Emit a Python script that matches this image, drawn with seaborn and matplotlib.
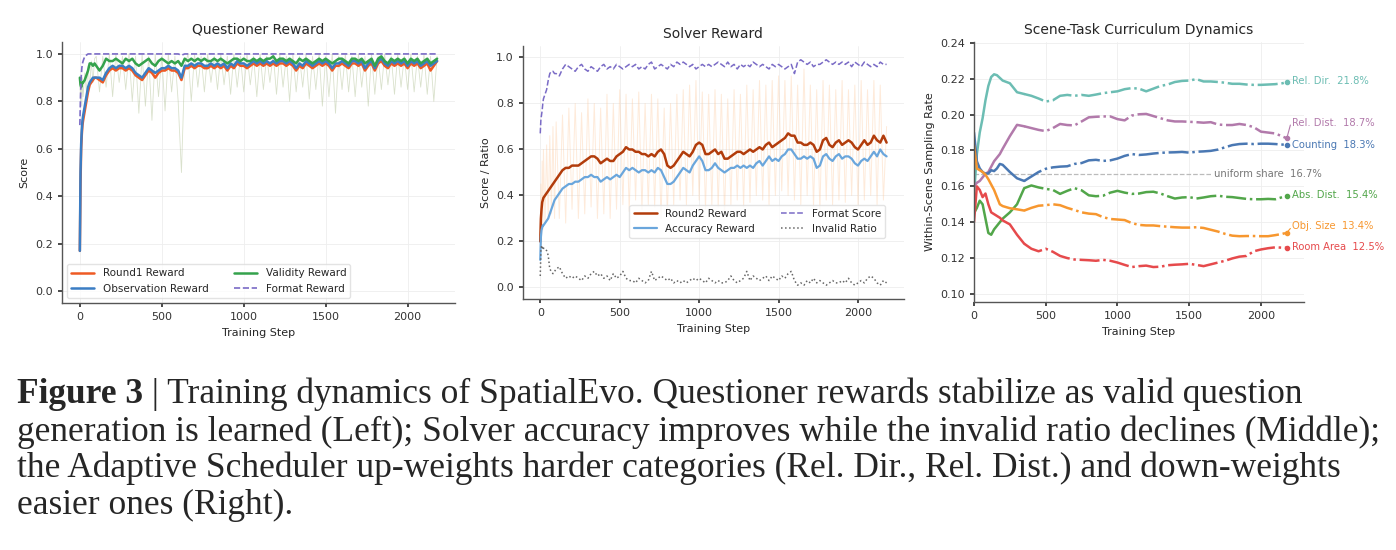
import matplotlib
matplotlib.use('Agg')
import matplotlib.pyplot as plt
import seaborn as sns

# ---------------- data ----------------
early_steps = [0, 4, 8, 12, 16, 20, 30, 40, 50, 60, 70, 80, 90]
steps = early_steps + list(range(100, 2181, 20))

# Questioner panel
round1_reward = [0.17, 0.45, 0.60, 0.66, 0.70, 0.72, 0.76, 0.80, 0.84, 0.87, 0.88, 0.89, 0.90,
                 0.90, 0.89, 0.88, 0.91, 0.93, 0.94, 0.93, 0.94, 0.94, 0.93,
                 0.94, 0.93, 0.91, 0.90, 0.89, 0.91, 0.93, 0.92, 0.90, 0.92,
                 0.93, 0.93, 0.94, 0.93, 0.93, 0.92, 0.89, 0.94, 0.94, 0.95,
                 0.94, 0.95, 0.95, 0.94, 0.94, 0.95, 0.94, 0.95, 0.94, 0.95,
                 0.93, 0.95, 0.94, 0.96, 0.95, 0.95, 0.94, 0.95, 0.96, 0.95,
                 0.96, 0.95, 0.96, 0.95, 0.96, 0.95, 0.96, 0.96, 0.95, 0.96,
                 0.95, 0.93, 0.95, 0.94, 0.96, 0.95, 0.94, 0.95, 0.96, 0.95,
                 0.96, 0.95, 0.93, 0.95, 0.95, 0.96, 0.95, 0.94, 0.96, 0.96,
                 0.95, 0.96, 0.93, 0.95, 0.96, 0.93, 0.96, 0.97, 0.95, 0.94,
                 0.96, 0.95, 0.96, 0.95, 0.96, 0.94, 0.96, 0.95, 0.96, 0.94,
                 0.95, 0.96, 0.93, 0.95, 0.97]
observation_reward = [0.17, 0.50, 0.62, 0.68, 0.72, 0.74, 0.78, 0.82, 0.86, 0.88, 0.89, 0.90, 0.90,
                      0.90, 0.90, 0.89, 0.92, 0.94, 0.95, 0.94, 0.95, 0.95, 0.94,
                      0.95, 0.94, 0.92, 0.91, 0.90, 0.92, 0.94, 0.93, 0.92, 0.93,
                      0.94, 0.94, 0.95, 0.94, 0.94, 0.93, 0.90, 0.95, 0.95, 0.96,
                      0.95, 0.96, 0.96, 0.95, 0.95, 0.96, 0.95, 0.96, 0.95, 0.96,
                      0.94, 0.96, 0.95, 0.97, 0.96, 0.96, 0.95, 0.96, 0.97, 0.96,
                      0.97, 0.96, 0.97, 0.96, 0.97, 0.96, 0.97, 0.97, 0.96, 0.97,
                      0.96, 0.94, 0.96, 0.95, 0.97, 0.96, 0.95, 0.96, 0.97, 0.96,
                      0.97, 0.96, 0.94, 0.96, 0.96, 0.97, 0.96, 0.95, 0.97, 0.97,
                      0.96, 0.97, 0.94, 0.96, 0.97, 0.94, 0.97, 0.98, 0.96, 0.95,
                      0.97, 0.96, 0.97, 0.96, 0.97, 0.95, 0.97, 0.96, 0.97, 0.95,
                      0.96, 0.97, 0.95, 0.96, 0.97]
validity_reward = [0.90, 0.87, 0.86, 0.87, 0.88, 0.88, 0.89, 0.91, 0.93, 0.96, 0.96, 0.95, 0.96,
                   0.95, 0.93, 0.95, 0.98, 0.97, 0.97, 0.98, 0.97, 0.96, 0.98,
                   0.97, 0.98, 0.96, 0.95, 0.96, 0.97, 0.98, 0.96, 0.95, 0.97,
                   0.98, 0.97, 0.96, 0.97, 0.96, 0.97, 0.95, 0.98, 0.97, 0.98,
                   0.97, 0.98, 0.97, 0.98, 0.97, 0.97, 0.98, 0.97, 0.98, 0.97,
                   0.96, 0.97, 0.98, 0.98, 0.97, 0.98, 0.97, 0.97, 0.98, 0.97,
                   0.98, 0.97, 0.98, 0.98, 0.99, 0.97, 0.98, 0.98, 0.97, 0.98,
                   0.97, 0.96, 0.98, 0.97, 0.98, 0.97, 0.96, 0.97, 0.98, 0.97,
                   0.98, 0.97, 0.96, 0.97, 0.98, 0.98, 0.97, 0.96, 0.98, 0.98,
                   0.97, 0.98, 0.96, 0.97, 0.98, 0.95, 0.98, 0.99, 0.97, 0.96,
                   0.98, 0.97, 0.98, 0.97, 0.98, 0.96, 0.98, 0.97, 0.98, 0.96,
                   0.97, 0.98, 0.96, 0.97, 0.98]
format_reward = [0.70, 0.82, 0.90, 0.94, 0.96, 0.97, 0.99, 0.995, 1.0, 1.0, 1.0, 1.0, 1.0,
                 1.0, 1.0, 1.0, 1.0, 1.0, 1.0, 1.0, 1.0, 1.0, 1.0,
                 1.0, 1.0, 1.0, 1.0, 1.0, 1.0, 1.0, 1.0, 1.0, 1.0,
                 1.0, 1.0, 1.0, 1.0, 1.0, 1.0, 0.995, 1.0, 1.0, 1.0,
                 1.0, 1.0, 1.0, 1.0, 1.0, 1.0, 1.0, 1.0, 1.0, 1.0,
                 1.0, 1.0, 1.0, 1.0, 1.0, 1.0, 1.0, 1.0, 1.0, 1.0,
                 1.0, 1.0, 1.0, 1.0, 1.0, 1.0, 1.0, 1.0, 1.0, 1.0,
                 1.0, 1.0, 1.0, 1.0, 1.0, 1.0, 1.0, 1.0, 1.0, 1.0,
                 1.0, 1.0, 1.0, 1.0, 1.0, 1.0, 1.0, 1.0, 1.0, 1.0,
                 1.0, 1.0, 1.0, 1.0, 1.0, 1.0, 1.0, 1.0, 1.0, 1.0,
                 1.0, 1.0, 1.0, 1.0, 1.0, 1.0, 1.0, 1.0, 1.0, 1.0,
                 1.0, 1.0, 1.0, 1.0, 1.0]
validity_raw = [0.90, 0.80, 0.88, 0.78, 0.90, 0.82, 0.92, 0.84, 0.95, 0.86, 0.97, 0.88, 0.98,
                0.99, 0.84, 0.99, 0.86, 1.0, 0.82, 1.0, 0.88, 0.99, 0.85,
                1.0, 0.80, 0.99, 0.75, 1.0, 0.78, 0.99, 0.72, 1.0, 0.82,
                0.99, 0.76, 1.0, 0.84, 0.99, 0.80, 0.50, 0.95, 1.0, 0.80,
                1.0, 0.86, 0.99, 0.84, 1.0, 0.88, 0.99, 0.85, 1.0, 0.87,
                0.99, 0.83, 1.0, 0.86, 0.99, 0.84, 1.0, 0.87, 0.99, 0.82,
                1.0, 0.85, 0.99, 0.88, 1.0, 0.83, 1.0, 0.86, 0.99, 0.80,
                1.0, 0.84, 0.99, 0.86, 1.0, 0.81, 0.99, 0.85, 1.0, 0.78,
                0.99, 0.82, 1.0, 0.75, 0.99, 0.85, 1.0, 0.84, 0.99, 0.82,
                1.0, 0.86, 0.99, 0.78, 1.0, 0.83, 0.99, 0.85, 1.0, 0.87,
                0.99, 0.83, 1.0, 0.86, 0.99, 0.85, 1.0, 0.84, 0.99, 0.86,
                1.0, 0.83, 0.99, 0.80, 0.99]

# Solver panel
round2_reward = [0.20, 0.30, 0.34, 0.37, 0.38, 0.39, 0.40, 0.41, 0.42, 0.43, 0.44, 0.45, 0.46,
                 0.47, 0.49, 0.51, 0.52, 0.52, 0.53, 0.53, 0.53, 0.54, 0.55,
                 0.56, 0.57, 0.57, 0.56, 0.54, 0.55, 0.56, 0.55, 0.55, 0.57,
                 0.58, 0.59, 0.61, 0.60, 0.60, 0.59, 0.59, 0.58, 0.58, 0.57,
                 0.58, 0.57, 0.59, 0.60, 0.58, 0.53, 0.52, 0.53, 0.55, 0.57,
                 0.59, 0.58, 0.57, 0.59, 0.62, 0.63, 0.62, 0.58, 0.58, 0.59,
                 0.60, 0.58, 0.59, 0.56, 0.56, 0.57, 0.58, 0.59, 0.59, 0.58,
                 0.59, 0.60, 0.59, 0.60, 0.61, 0.60, 0.62, 0.63, 0.61, 0.62,
                 0.63, 0.64, 0.65, 0.67, 0.66, 0.66, 0.63, 0.63, 0.62, 0.62,
                 0.63, 0.62, 0.59, 0.60, 0.64, 0.65, 0.62, 0.61, 0.63, 0.64,
                 0.62, 0.63, 0.64, 0.63, 0.61, 0.60, 0.62, 0.64, 0.62, 0.63,
                 0.66, 0.64, 0.63, 0.66, 0.63]
accuracy_reward = [0.12, 0.22, 0.25, 0.26, 0.27, 0.27, 0.28, 0.29, 0.30, 0.32, 0.34, 0.36, 0.38,
                   0.39, 0.41, 0.43, 0.44, 0.45, 0.45, 0.46, 0.46, 0.47, 0.48,
                   0.48, 0.49, 0.48, 0.48, 0.46, 0.47, 0.48, 0.47, 0.48, 0.49,
                   0.48, 0.50, 0.52, 0.51, 0.52, 0.51, 0.50, 0.51, 0.51, 0.50,
                   0.51, 0.50, 0.52, 0.51, 0.48, 0.45, 0.45, 0.46, 0.48, 0.50,
                   0.52, 0.51, 0.50, 0.53, 0.55, 0.57, 0.55, 0.51, 0.51, 0.52,
                   0.54, 0.52, 0.51, 0.50, 0.51, 0.52, 0.52, 0.53, 0.52, 0.53,
                   0.52, 0.53, 0.52, 0.54, 0.55, 0.53, 0.55, 0.57, 0.55, 0.56,
                   0.55, 0.57, 0.58, 0.60, 0.60, 0.58, 0.56, 0.56, 0.57, 0.56,
                   0.57, 0.56, 0.52, 0.53, 0.57, 0.58, 0.56, 0.55, 0.57, 0.58,
                   0.56, 0.57, 0.57, 0.56, 0.54, 0.53, 0.55, 0.56, 0.55, 0.57,
                   0.59, 0.57, 0.60, 0.58, 0.57]
format_score = [0.67, 0.73, 0.75, 0.77, 0.80, 0.82, 0.84, 0.86, 0.90, 0.93, 0.94, 0.94, 0.93,
                0.93, 0.92, 0.95, 0.97, 0.96, 0.95, 0.94, 0.96, 0.97, 0.95,
                0.94, 0.96, 0.95, 0.94, 0.96, 0.97, 0.95, 0.96, 0.95, 0.97,
                0.96, 0.95, 0.96, 0.97, 0.96, 0.97, 0.95, 0.96, 0.95, 0.97,
                0.98, 0.95, 0.96, 0.97, 0.96, 0.95, 0.97, 0.96, 0.98, 0.97,
                0.98, 0.97, 0.96, 0.97, 0.95, 0.96, 0.97, 0.96, 0.97, 0.96,
                0.97, 0.98, 0.97, 0.96, 0.98, 0.96, 0.97, 0.95, 0.97, 0.96,
                0.97, 0.96, 0.98, 0.97, 0.96, 0.97, 0.96, 0.95, 0.97, 0.96,
                0.97, 0.96, 0.95, 0.96, 0.97, 0.93, 0.98, 0.99, 0.98, 0.97,
                0.98, 0.96, 0.97, 0.97, 0.98, 0.99, 0.98, 0.97, 0.98, 0.97,
                0.98, 0.97, 0.98, 0.96, 0.98, 0.97, 0.96, 0.98, 0.97, 0.96,
                0.97, 0.96, 0.98, 0.97, 0.97]
invalid_ratio = [0.05, 0.16, 0.18, 0.17, 0.18, 0.17, 0.17, 0.16, 0.14, 0.08, 0.07, 0.06, 0.07,
                 0.08, 0.09, 0.06, 0.04, 0.05, 0.04, 0.05, 0.04, 0.03, 0.05,
                 0.04, 0.06, 0.07, 0.05, 0.06, 0.04, 0.05, 0.03, 0.06, 0.04,
                 0.05, 0.07, 0.04, 0.03, 0.03, 0.02, 0.04, 0.03, 0.02, 0.03,
                 0.07, 0.03, 0.04, 0.05, 0.04, 0.03, 0.04, 0.02, 0.03, 0.02,
                 0.03, 0.02, 0.03, 0.04, 0.03, 0.04, 0.03, 0.02, 0.04, 0.03,
                 0.02, 0.03, 0.02, 0.02, 0.03, 0.05, 0.03, 0.02, 0.03, 0.04,
                 0.07, 0.03, 0.05, 0.04, 0.03, 0.04, 0.05, 0.03, 0.05, 0.04,
                 0.03, 0.05, 0.04, 0.06, 0.07, 0.03, 0.01, 0.02, 0.01, 0.03,
                 0.02, 0.04, 0.02, 0.03, 0.02, 0.01, 0.02, 0.03, 0.02, 0.02,
                 0.03, 0.02, 0.04, 0.02, 0.01, 0.02, 0.03, 0.02, 0.04, 0.05,
                 0.04, 0.02, 0.01, 0.03, 0.02]
round2_raw = [0.20, 0.45, 0.18, 0.55, 0.25, 0.60, 0.28, 0.62, 0.30, 0.66, 0.32, 0.70, 0.30,
              0.72, 0.30, 0.75, 0.28, 0.78, 0.34, 0.80, 0.30, 0.76, 0.32,
              0.82, 0.35, 0.80, 0.30, 0.78, 0.32, 0.84, 0.30, 0.80, 0.34,
              0.86, 0.36, 0.84, 0.33, 0.82, 0.38, 0.85, 0.34, 0.80, 0.36,
              0.84, 0.35, 0.82, 0.30, 0.78, 0.32, 0.80, 0.36, 0.84, 0.38,
              0.86, 0.36, 0.88, 0.40, 0.90, 0.38, 0.85, 0.34, 0.84, 0.36,
              0.86, 0.35, 0.84, 0.32, 0.82, 0.36, 0.86, 0.38, 0.84, 0.35,
              0.88, 0.37, 0.86, 0.40, 0.90, 0.38, 0.88, 0.36, 0.90, 0.40,
              0.92, 0.42, 0.90, 0.40, 0.92, 0.38, 0.88, 0.36, 0.95, 0.40,
              0.88, 0.35, 0.86, 0.33, 0.90, 0.38, 0.88, 0.36, 0.86, 0.38,
              0.90, 0.37, 0.86, 0.40, 0.88, 0.36, 0.90, 0.38, 0.86, 0.40,
              0.90, 0.36, 0.88, 0.38, 0.70]

# Curriculum panel
curr_steps = [0, 20, 40, 60, 80, 100, 120, 140, 160, 180, 200] + list(range(250, 2151, 50)) + [2180]
rel_dir = [0.155, 0.178, 0.190, 0.198, 0.208, 0.216, 0.221, 0.2225, 0.222, 0.2205, 0.219,
           0.2175, 0.2125, 0.2115, 0.2105, 0.209, 0.2073, 0.208, 0.2105, 0.211, 0.2105,
           0.211, 0.2105, 0.2112, 0.212, 0.2125, 0.213, 0.2142, 0.2148, 0.2145, 0.213,
           0.2145, 0.216, 0.2168, 0.2182, 0.2188, 0.219, 0.2198, 0.2185, 0.2185, 0.2182,
           0.2178, 0.2172, 0.2172, 0.2168, 0.2166, 0.2166, 0.2168, 0.217, 0.2175,
           0.2182]
rel_dist = [0.160, 0.162, 0.163, 0.165, 0.167, 0.168, 0.171, 0.174, 0.176, 0.178, 0.181,
            0.188, 0.1943, 0.1935, 0.1925, 0.1915, 0.1908, 0.1925, 0.1948, 0.1942, 0.194,
            0.1962, 0.1985, 0.1988, 0.199, 0.199, 0.1975, 0.1968, 0.1995, 0.2002, 0.2004,
            0.1992, 0.198, 0.1968, 0.1962, 0.1962, 0.196, 0.1958, 0.1955, 0.1958, 0.1945,
            0.1942, 0.1942, 0.1948, 0.1942, 0.193, 0.1905, 0.19, 0.1895, 0.1878,
            0.1868]
counting = [0.190, 0.174, 0.170, 0.168, 0.167, 0.1672, 0.169, 0.1685, 0.170, 0.1725, 0.172,
            0.168, 0.1645, 0.163, 0.1655, 0.168, 0.1698, 0.1706, 0.171, 0.1712, 0.1725,
            0.173, 0.1745, 0.1748, 0.1742, 0.1745, 0.1755, 0.177, 0.178, 0.1775, 0.1778,
            0.1783, 0.1787, 0.1789, 0.179, 0.1792, 0.1788, 0.1793, 0.1795, 0.1798, 0.1805,
            0.1818, 0.183, 0.1836, 0.1838, 0.1836, 0.1838, 0.1838, 0.1836, 0.1833,
            0.1831]
abs_dist = [0.145, 0.148, 0.152, 0.150, 0.142, 0.134, 0.133, 0.136, 0.138, 0.140, 0.142,
            0.1455, 0.150, 0.159, 0.1605, 0.1594, 0.1586, 0.158, 0.1558, 0.1575, 0.159,
            0.1578, 0.155, 0.1545, 0.1548, 0.1565, 0.1575, 0.1565, 0.1558, 0.156, 0.1568,
            0.157, 0.156, 0.1545, 0.1532, 0.1538, 0.154, 0.1532, 0.1538, 0.1545, 0.1548,
            0.1542, 0.154, 0.1535, 0.153, 0.1528, 0.1528, 0.153, 0.1528, 0.154,
            0.1547]
obj_size = [0.183, 0.170, 0.169, 0.168, 0.1665, 0.164, 0.161, 0.158, 0.154, 0.150, 0.149,
            0.1478, 0.1472, 0.1465, 0.148, 0.1492, 0.1495, 0.150, 0.1495, 0.148, 0.1468,
            0.1455, 0.1448, 0.1445, 0.1428, 0.1418, 0.1415, 0.1412, 0.1395, 0.1385, 0.1382,
            0.1382, 0.1378, 0.1375, 0.1372, 0.137, 0.137, 0.1372, 0.1368, 0.1358, 0.1348,
            0.1335, 0.1325, 0.1322, 0.1323, 0.1323, 0.1322, 0.1322, 0.1328, 0.1335,
            0.1342]
room_area = [0.140, 0.160, 0.158, 0.154, 0.156, 0.150, 0.1455, 0.1445, 0.1435, 0.1425, 0.141,
             0.1388, 0.133, 0.128, 0.1252, 0.1238, 0.1252, 0.1235, 0.1212, 0.120, 0.1192,
             0.119, 0.1188, 0.1185, 0.119, 0.1185, 0.1175, 0.1162, 0.115, 0.1155, 0.1158,
             0.115, 0.1152, 0.116, 0.1163, 0.1165, 0.1168, 0.1162, 0.1155, 0.1165, 0.1175,
             0.1185, 0.1198, 0.1208, 0.1212, 0.1238, 0.1248, 0.1255, 0.126, 0.1258,
             0.1258]
task_names = ['Rel. Dir.', 'Rel. Dist.', 'Counting', 'Abs. Dist.', 'Obj. Size', 'Room Area']
task_pcts = ['21.8%', '18.7%', '18.3%', '15.4%', '13.4%', '12.5%']
task_label_y = [0.2185, 0.1954, 0.1831, 0.1553, 0.1377, 0.1261]
uniform_share = 0.1667

caption_lines = [
    'Training dynamics of SpatialEvo. Questioner rewards stabilize as valid question',
    'generation is learned (Left); Solver accuracy improves while the invalid ratio declines (Middle);',
    'the Adaptive Scheduler up-weights harder categories (Rel. Dir., Rel. Dist.) and down-weights',
    'easier ones (Right).',
]

# ---------------- style ----------------
sns.set_theme(style='whitegrid', rc={
    'grid.color': '#eeeeee', 'grid.linewidth': 0.6,
    'axes.edgecolor': '#555555', 'axes.linewidth': 1.0,
    'xtick.bottom': True, 'ytick.left': True,
    'xtick.major.size': 3, 'ytick.major.size': 3,
    'xtick.color': '#333333', 'ytick.color': '#333333',
    'xtick.labelsize': 8, 'ytick.labelsize': 8,
    'axes.labelsize': 8, 'axes.titlesize': 10,
})
plt.rcParams['font.family'] = ['DejaVu Sans']

fig = plt.figure(figsize=(13.96, 5.5), dpi=100)
ax1 = fig.add_axes([0.0444, 0.449, 0.2815, 0.4745])
ax2 = fig.add_axes([0.3746, 0.4564, 0.2729, 0.46])
ax3 = fig.add_axes([0.6977, 0.4509, 0.2364, 0.4727])

# ---------------- Questioner Reward ----------------
sns.lineplot(x=steps, y=validity_raw, ax=ax1, color='#b5c49a', lw=0.6, alpha=0.5)
sns.lineplot(x=steps, y=round1_reward, ax=ax1, color='#ee5a24', lw=1.8, label='Round1 Reward')
sns.lineplot(x=steps, y=observation_reward, ax=ax1, color='#3b7dc4', lw=1.8, label='Observation Reward')
sns.lineplot(x=steps, y=validity_reward, ax=ax1, color='#34a24c', lw=1.8, label='Validity Reward')
sns.lineplot(x=steps, y=format_reward, ax=ax1, color='#7a6bc6', lw=1.2, linestyle='--', label='Format Reward')
ax1.set_ylim(-0.05, 1.05)
ax1.set_xticks([0, 500, 1000, 1500, 2000])
ax1.set_title('Questioner Reward')
ax1.set_xlabel('Training Step')
ax1.set_ylabel('Score')
ax1.legend(loc='lower left', ncol=2, fontsize=7.5, frameon=True, edgecolor='#dddddd',
           handlelength=2.2, columnspacing=2.5)

# ---------------- Solver Reward ----------------
sns.lineplot(x=steps, y=round2_raw, ax=ax2, color='#fdc596', lw=0.7, alpha=0.35)
sns.lineplot(x=steps, y=round2_reward, ax=ax2, color='#b23c0b', lw=1.8, label='Round2 Reward')
sns.lineplot(x=steps, y=accuracy_reward, ax=ax2, color='#6aa6dc', lw=1.6, label='Accuracy Reward')
sns.lineplot(x=steps, y=format_score, ax=ax2, color='#7a6bc6', lw=1.1, linestyle='--', label='Format Score')
sns.lineplot(x=steps, y=invalid_ratio, ax=ax2, color='#666666', lw=1.1, linestyle=':', label='Invalid Ratio')
ax2.set_ylim(-0.05, 1.05)
ax2.set_xticks([0, 500, 1000, 1500, 2000])
ax2.set_title('Solver Reward')
ax2.set_xlabel('Training Step')
ax2.set_ylabel('Score / Ratio')
ax2.legend(loc='lower right', bbox_to_anchor=(0.965, 0.22), ncol=2, fontsize=7.5, frameon=True,
           edgecolor='#dddddd', handlelength=2.2, columnspacing=2.5)

# ---------------- Curriculum ----------------
task_series = [rel_dir, rel_dist, counting, abs_dist, obj_size, room_area]
task_colors = ['#6cbdb3', '#b27aab', '#4a78b3', '#52a64a', '#f7972f', '#e64a4c']
split = curr_steps.index(350)
ax3.axhline(uniform_share, xmax=1660 / 2300, color='#bbbbbb', lw=0.9, ls='--')
ax3.text(1670, uniform_share, 'uniform share  16.7%', color='#777777', fontsize=7.2, va='center')
for vals, col, name, pct, ly in zip(task_series, task_colors, task_names, task_pcts, task_label_y):
    sns.lineplot(x=curr_steps[:split + 1], y=vals[:split + 1], ax=ax3, color=col, lw=1.8)
    sns.lineplot(x=curr_steps[split:], y=vals[split:], ax=ax3, color=col, lw=1.8,
                 linestyle=(0, (8, 1.5, 1, 1.5)))
    ax3.plot(curr_steps[-1], vals[-1], 'o', color=col, ms=3)
    if abs(ly - vals[-1]) > 0.002:
        ax3.plot([curr_steps[-1], 2205], [vals[-1], ly - 0.0012], color=col, lw=0.8)
    ax3.text(2215, ly, f'{name}  {pct}', color=col, fontsize=7.2, va='center')
ax3.set_xlim(0, 2300)
ax3.set_ylim(0.0955, 0.2405)
ax3.set_xticks([0, 500, 1000, 1500, 2000])
ax3.set_yticks([0.10, 0.12, 0.14, 0.16, 0.18, 0.20, 0.22, 0.24])
ax3.set_yticklabels([f'{v:.2f}' for v in [0.10, 0.12, 0.14, 0.16, 0.18, 0.20, 0.22, 0.24]])
ax3.set_title('Scene-Task Curriculum Dynamics')
ax3.set_xlabel('Training Step')
ax3.set_ylabel('Within-Scene Sampling Rate')

for ax in (ax1, ax2, ax3):
    sns.despine(ax=ax)

# ---------------- caption ----------------
W, H = 1396, 550
renderer = fig.canvas.get_renderer()
probe = fig.text(0, 0, caption_lines[1], fontsize=20, family='Liberation Serif')
pw = probe.get_window_extent(renderer).width
probe.remove()
fs = 20 * 1362 / pw
baselines = [403, 441, 477, 514]
x0 = 17 / W
head = fig.text(x0, 1 - baselines[0] / H, 'Figure 3', fontsize=fs, fontweight='bold',
                family='Liberation Serif', va='baseline')
hx = head.get_window_extent(renderer).x1 / W
fig.text(hx, 1 - baselines[0] / H, ' | ' + caption_lines[0], fontsize=fs,
         family='Liberation Serif', va='baseline')
for line, b in zip(caption_lines[1:], baselines[1:]):
    fig.text(x0, 1 - b / H, line, fontsize=fs, family='Liberation Serif', va='baseline')

fig.savefig('out.png', dpi=100)
